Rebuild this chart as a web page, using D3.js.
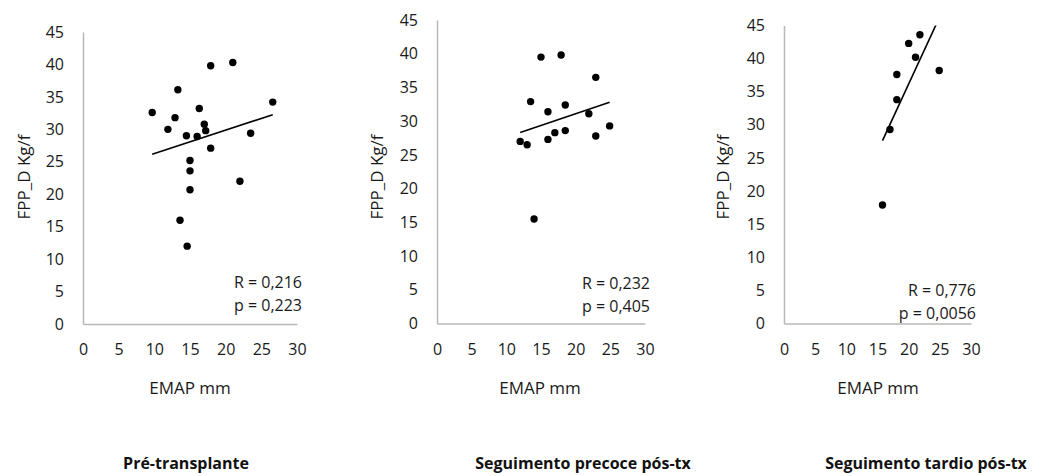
<!DOCTYPE html>
<html>
<head>
<meta charset="utf-8">
<script src="https://cdn.jsdelivr.net/npm/d3@7"></script>
<style>
  body { margin: 0; background: #fff; }
  svg { font-family: "Open Sans", "Liberation Sans", sans-serif; }
</style>
</head>
<body>
<div id="chart"></div>
<script>
// values
var titles = ['Pré-transplante', 'Seguimento precoce pós-tx', 'Seguimento tardio pós-tx'];
var stats = [['R = 0,216', 'p = 0,223'], ['R = 0,232', 'p = 0,405'], ['R = 0,776', 'p = 0,0056']];
var xTicks = [0, 5, 10, 15, 20, 25, 30];
var yTicks = [0, 5, 10, 15, 20, 25, 30, 35, 40, 45];
var xLabel = 'EMAP mm';
var yLabel = 'FPP_D Kg/f';

var emapPre = [9.7, 11.9, 12.9, 13.3, 13.6, 14.5, 14.6, 15.0, 15.0, 15.0, 16.0, 16.3, 17.0, 17.2, 17.9, 17.9, 21.0, 22.0, 23.5, 26.6];
var fppPre  = [32.6, 30.0, 31.8, 36.1, 16.0, 29.0, 12.0, 25.2, 23.6, 20.7, 28.9, 33.2, 30.8, 29.8, 27.1, 39.8, 40.3, 22.0, 29.4, 34.2];

var emapPrecoce = [12.0, 13.0, 13.5, 14.0, 15.0, 16.0, 16.0, 17.0, 17.9, 18.5, 18.5, 21.9, 22.9, 22.9, 24.9];
var fppPrecoce  = [27.0, 26.5, 32.9, 15.5, 39.5, 31.4, 27.3, 28.3, 39.8, 32.4, 28.6, 31.1, 36.5, 27.8, 29.3];

var emapTardio = [15.8, 17.0, 18.1, 18.1, 20.0, 21.1, 21.8, 24.9];
var fppTardio  = [17.9, 29.3, 33.8, 37.6, 42.3, 40.2, 43.6, 38.2];

var series = [[emapPre, fppPre], [emapPrecoce, fppPrecoce], [emapTardio, fppTardio]];

// panel placement
var panels = [
	{left: 83,  right: 297, top: 32,   bottom: 324,   statY: 282, labelX: 24,  xLabelX: 190, titleX: 186},
	{left: 437, right: 645, top: 20,   bottom: 323.5, statY: 283, labelX: 377, xLabelX: 540, titleX: 583},
	{left: 784, right: 971, top: 25.5, bottom: 323.5, statY: 290, labelX: 723, xLabelX: 878, titleX: 926}
];

var svg = d3.select('#chart').append('svg')
	.attr('width', 1042)
	.attr('height', 476);

var fit = function(xs, ys){
	var mx = d3.mean(xs), my = d3.mean(ys);
	var sxy = d3.sum(xs, function(x, i){ return (x - mx)*(ys[i] - my); });
	var sxx = d3.sum(xs, function(x){ return (x - mx)*(x - mx); });
	var b = sxy/sxx;
	return {b: b, a: my - b*mx};
};

panels.forEach(function(p, k){
	var xs = series[k][0], ys = series[k][1];
	var x = d3.scaleLinear().domain([0, 30]).range([p.left, p.right]);
	var y = d3.scaleLinear().domain([0, 45]).range([p.bottom, p.top]);
	var g = svg.append('g');

	var clipId = 'clip' + k;
	svg.append('clipPath').attr('id', clipId)
		.append('rect')
		.attr('x', p.left).attr('y', p.top)
		.attr('width', p.right - p.left).attr('height', p.bottom - p.top);

	// axes
	var yAxis = g.append('g')
		.attr('transform', 'translate(' + p.left + ',0)')
		.call(d3.axisLeft(y).tickValues(yTicks).tickSize(0).tickPadding(19));
	var xAxis = g.append('g')
		.attr('transform', 'translate(0,' + p.bottom + ')')
		.call(d3.axisBottom(x).tickValues(xTicks).tickSize(0).tickPadding(20));
	[xAxis, yAxis].forEach(function(ax){
		ax.select('.domain').attr('stroke', '#b8b8b8').attr('stroke-width', 1.5);
		ax.selectAll('text').attr('font-size', 16).attr('fill', '#1a1a1a')
			.attr('font-family', '"Open Sans", sans-serif');
	});

	// trend line
	var f = fit(xs, ys);
	var x0 = d3.min(xs), x1 = d3.max(xs);
	g.append('line')
		.attr('clip-path', 'url(#' + clipId + ')')
		.attr('x1', x(x0)).attr('y1', y(f.a + f.b*x0))
		.attr('x2', x(x1)).attr('y2', y(f.a + f.b*x1))
		.attr('stroke', '#000')
		.attr('stroke-width', 1.6);

	// points
	g.selectAll('circle')
		.data(xs).enter()
		.append('circle')
		.attr('cx', function(d){ return x(d); })
		.attr('cy', function(d, i){ return y(ys[i]); })
		.attr('r', 3.7)
		.attr('fill', '#000');

	// R and p
	g.selectAll('text.stat')
		.data(stats[k]).enter()
		.append('text')
		.attr('class', 'stat')
		.attr('x', p.right + 5)
		.attr('y', function(d, i){ return p.statY + i*23; })
		.attr('dy', '0.35em')
		.attr('text-anchor', 'end')
		.attr('font-size', 16)
		.attr('fill', '#1a1a1a')
		.text(function(d){ return d; });

	// axis titles
	g.append('text')
		.attr('x', p.xLabelX)
		.attr('y', 388)
		.attr('dy', '0.35em')
		.attr('text-anchor', 'middle')
		.attr('font-size', 17)
		.attr('fill', '#1a1a1a')
		.text(xLabel);
	g.append('text')
		.attr('transform', 'translate(' + p.labelX + ',' + 177 + ') rotate(-90)')
		.attr('dy', '0.35em')
		.attr('text-anchor', 'middle')
		.attr('font-size', 17)
		.attr('fill', '#1a1a1a')
		.text(yLabel);

	// panel title
	g.append('text')
		.attr('x', p.titleX)
		.attr('y', 463)
		.attr('dy', '0.35em')
		.attr('text-anchor', 'middle')
		.attr('font-size', 16)
		.attr('font-weight', 'bold')
		.attr('fill', '#111')
		.text(titles[k]);
});
</script>
</body>
</html>
